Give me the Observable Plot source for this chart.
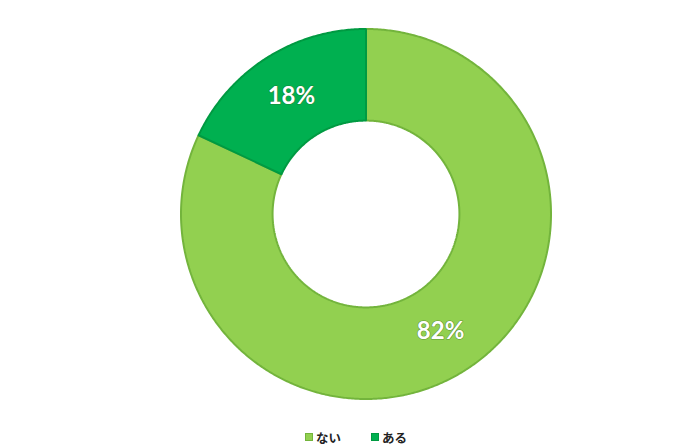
<!DOCTYPE html>
<html>
<head>
<meta charset="utf-8">
<script src="https://cdn.jsdelivr.net/npm/d3@7"></script>
<script src="https://cdn.jsdelivr.net/npm/@observablehq/plot@0.6"></script>
<style>
  html, body { margin: 0; padding: 0; background: #fff; }
  #chart svg { display: block; }
  #legend { height: 22px; margin-top: 2px; display: flex; justify-content: center; align-items: center; gap: 30px; padding-left: 12px;
    font-family: "Noto Sans CJK JP", sans-serif; font-weight: bold; font-size: 12.5px; color: #222; }
  .item { display: flex; align-items: center; gap: 3px; }
  .sw { width: 8px; height: 8px; box-sizing: border-box; }
</style>
</head>
<body>
<div id="chart"></div>
<div id="legend"></div>
<script>
const categories = ["ない", "ある"];
const values = [82, 18];
const labels = ["82%", "18%"];
const fills = ["#92D050", "#00B050"];
const strokes = ["#73B43C", "#009A42"];

const innerFrac = 0.505;
const total = d3.sum(values);

// Build slice polygons (in unit-circle coordinates) from the data values
let start = 0;
const slices = categories.map((name, i) => {
  const a0 = start / total * 2 * Math.PI;
  const a1 = (start + values[i]) / total * 2 * Math.PI;
  start += values[i];
  const pts = [];
  const n = Math.max(2, Math.ceil((a1 - a0) / (Math.PI / 360)));
  for (let k = 0; k <= n; k++) {
    const a = a0 + (a1 - a0) * k / n;
    pts.push({x: Math.sin(a), y: Math.cos(a)});
  }
  for (let k = n; k >= 0; k--) {
    const a = a0 + (a1 - a0) * k / n;
    pts.push({x: innerFrac * Math.sin(a), y: innerFrac * Math.cos(a)});
  }
  pts.push(pts[0]);
  const am = (a0 + a1) / 2, rm = (1 + innerFrac) / 2;
  return {name, pts, label: labels[i], lx: rm * Math.sin(am), ly: rm * Math.cos(am), i};
});

const cx = 365.5, cy = 213.5, R = 185;

const chart = Plot.plot({
  width: 700,
  height: 424,
  x: {domain: [-1, 1], range: [cx - R, cx + R], axis: null},
  y: {domain: [-1, 1], range: [cy + R, cy - R], axis: null},
  marks: [
    ...slices.map(s => Plot.line(s.pts, {
      x: "x", y: "y", fill: fills[s.i], stroke: strokes[s.i], strokeWidth: 2, strokeLinejoin: "miter"
    })),
    Plot.text(slices, {
      x: "lx", y: "ly", text: "label",
      fill: "white", stroke: "rgba(50,100,30,0.55)", strokeWidth: 1.2,
      fontSize: 24, fontWeight: "bold", fontFamily: "Lato, sans-serif"
    })
  ]
});
document.getElementById("chart").append(chart);

const legend = d3.select("#legend");
categories.forEach((c, i) => {
  const it = legend.append("div").attr("class", "item");
  it.append("div").attr("class", "sw").style("background", fills[i]).style("border", `1px solid ${strokes[i]}`);
  it.append("span").text(c);
});
</script>
</body>
</html>
